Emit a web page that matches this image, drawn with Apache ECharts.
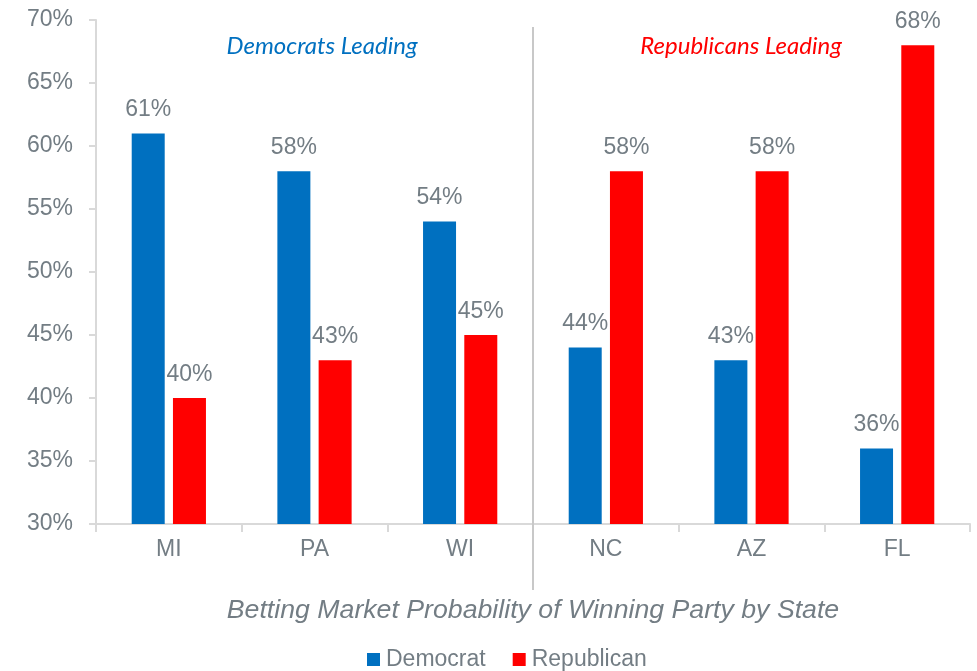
<!DOCTYPE html>
<html><head><meta charset="utf-8">
<script src="https://cdn.jsdelivr.net/npm/echarts@6/dist/echarts.min.js"></script>
<style>html,body{margin:0;padding:0;background:#fff}#c{width:977px;height:671px}</style>
</head><body><div id="c"></div>
<script>
var categories = ['MI', 'PA', 'WI', 'NC', 'AZ', 'FL'];
var democrat = [61, 58, 54, 44, 43, 36];
var republican = [40, 43, 45, 58, 58, 68];
var yTicks = { min: 30, max: 70, interval: 5 };

var chart = echarts.init(document.getElementById('c'));
var FONT = '"Liberation Sans", Arial, sans-serif';
var GREY = '#737d84';
var option = {
  animation: false,
  grid: { left: 96, right: 7, top: 20, bottom: 147 },
  legend: {
    top: 648, left: 367, padding: 0, icon: 'rect', itemWidth: 13, itemHeight: 13, itemGap: 27,
    textStyle: { fontFamily: FONT, fontSize: 23, color: GREY, padding: [0, 0, 0, 1] },
    data: ['Democrat', 'Republican']
  },
  xAxis: {
    type: 'category', data: categories,
    axisLine: { lineStyle: { color: '#d9d9d9', width: 2 } },
    axisTick: { show: true, length: 8, lineStyle: { color: '#d9d9d9', width: 2 } },
    axisLabel: { fontFamily: FONT, fontSize: 23, color: GREY, margin: 14 },
    name: 'Betting Market Probability of Winning Party by State',
    nameLocation: 'middle', nameGap: 73,
    nameTextStyle: { fontFamily: FONT, fontSize: 26.7, fontStyle: 'italic', color: GREY }
  },
  yAxis: {
    type: 'value', min: yTicks.min, max: yTicks.max, interval: yTicks.interval,
    axisLine: { show: true, lineStyle: { color: '#d9d9d9', width: 2 } },
    axisTick: { show: true, length: 7, lineStyle: { color: '#d9d9d9', width: 2 } },
    splitLine: { show: false },
    axisLabel: { formatter: '{value}%', fontFamily: FONT, fontSize: 23, color: GREY, margin: 23 }
  },
  series: [
    { name: 'Democrat', type: 'bar', data: democrat, barWidth: 33, barGap: '25%',
      itemStyle: { color: '#0070c0' },
      label: { show: true, position: 'top', distance: 12, formatter: '{c}%', fontFamily: FONT, fontSize: 23, color: GREY } },
    { name: 'Republican', type: 'bar', data: republican, barWidth: 33, barGap: '25%',
      itemStyle: { color: '#ff0000' },
      label: { show: true, position: 'top', distance: 12, formatter: '{c}%', fontFamily: FONT, fontSize: 23, color: GREY } }
  ]
};
chart.setOption(option);

// divider between WI and NC
var pWI = chart.convertToPixel({ gridIndex: 0 }, [2, 30]);
var pNC = chart.convertToPixel({ gridIndex: 0 }, [3, 30]);
var divX = Math.round((pWI[0] + pNC[0]) / 2);
var top70 = chart.convertToPixel({ gridIndex: 0 }, [0, 70])[1];
chart.setOption({
  graphic: [
    { type: 'line', shape: { x1: divX, y1: top70 + 7, x2: divX, y2: 590 }, style: { stroke: '#c8c8c8', lineWidth: 2 }, z: 10 },
    { type: 'text', x: 322, y: 46, style: { text: 'Democrats Leading', fill: '#0070c0', font: 'italic 24px Lato, "Open Sans", sans-serif', textAlign: 'center', textVerticalAlign: 'middle' } },
    { type: 'text', x: 741, y: 46, style: { text: 'Republicans Leading', fill: '#ff0000', font: 'italic 24px Lato, "Open Sans", sans-serif', textAlign: 'center', textVerticalAlign: 'middle' } }
  ]
});
</script>
</body></html>
